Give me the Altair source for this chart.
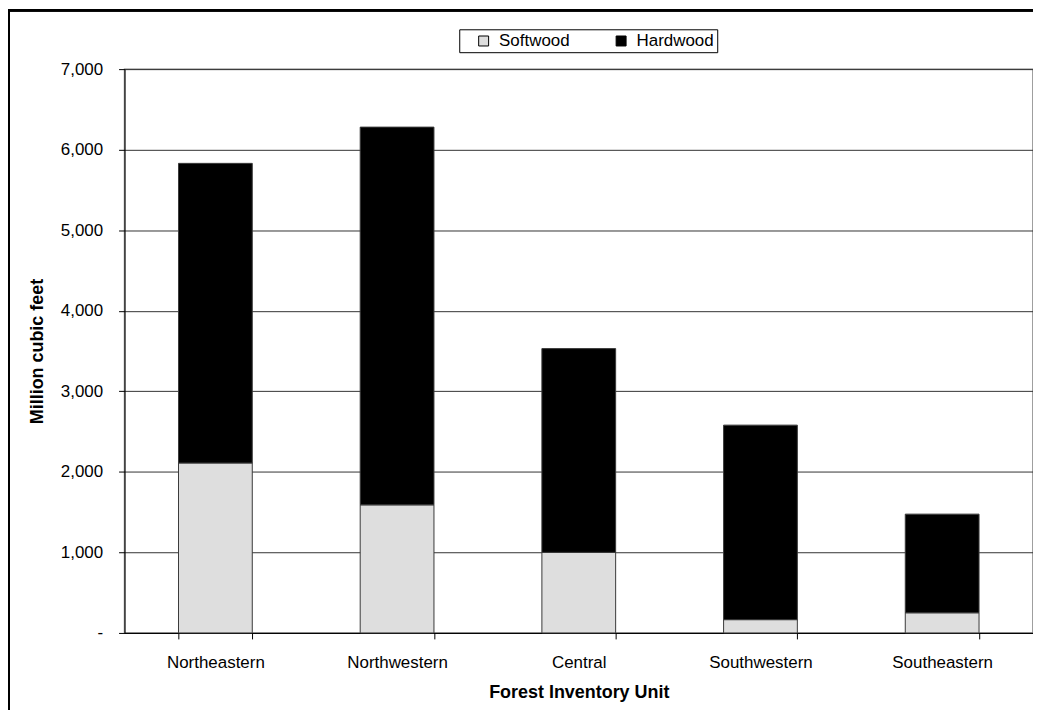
import altair as alt
import pandas as pd

units = ["Northeastern", "Northwestern", "Central", "Southwestern", "Southeastern"]
softwood = [2110, 1590, 1000, 165, 250]
hardwood = [3720, 4690, 2530, 2415, 1225]
series = ["Softwood", "Hardwood"]
y_ticks = [0, 1000, 2000, 3000, 4000, 5000, 6000, 7000]

rows = []
for u, s, h in zip(units, softwood, hardwood):
    rows.append({"unit": u, "type": "Softwood", "value": s, "ord": 0})
    rows.append({"unit": u, "type": "Hardwood", "value": h, "ord": 1})
df = pd.DataFrame(rows)

FONT = "Liberation Sans"

bars = alt.Chart(df).mark_bar(stroke="#3a3a3a", strokeWidth=1).encode(
    x=alt.X("unit:N", sort=units,
            scale=alt.Scale(paddingInner=0.594, paddingOuter=0.297),
            axis=alt.Axis(title="Forest Inventory Unit", labelAngle=0, tickBand="extent",
                          tickSize=6, labelPadding=16, titlePadding=13,
                          labelFontSize=17, titleFontSize=18, titleFontWeight="bold",
                          domainColor="black", tickColor="black", labelColor="black",
                          titleColor="black", grid=False)),
    y=alt.Y("value:Q", stack="zero",
            scale=alt.Scale(domain=[0, 7000], nice=False),
            axis=alt.Axis(title="Million cubic feet", values=y_ticks,
                          labelExpr="datum.value == 0 ? '-' : format(datum.value, ',')",
                          tickSize=6, labelPadding=16, titlePadding=14,
                          labelFontSize=17, titleFontSize=18, titleFontWeight="bold",
                          domainColor="black", tickColor="black", labelColor="black",
                          titleColor="black", grid=True, gridColor="#333333",
                          gridWidth=1)),
    color=alt.Color("type:N", sort=series,
                    scale=alt.Scale(domain=series, range=["#dedede", "#000000"]),
                    legend=alt.Legend(orient="none", legendX=336, legendY=-40,
                                      direction="horizontal", title=None,
                                      strokeColor="black", fillColor="white",
                                      padding=3, symbolType="square", symbolSize=100,
                                      symbolStrokeColor="black", symbolStrokeWidth=1,
                                      labelFontSize=17, labelColor="black",
                                      labelOffset=7,
                                      labelExpr="datum.label == 'Hardwood' ? 'Hardwood   ' : datum.label",
                                      columnPadding=30, symbolOffset=13)),
    order=alt.Order("ord:Q"),
)

frame = alt.Chart(df).mark_rect(fillOpacity=0, stroke="black", strokeWidth=2).encode(
    x=alt.value(-116.5), x2=alt.value(3000), y=alt.value(-59), y2=alt.value(3000)
)

chart = alt.layer(bars, frame).properties(
    width=912, height=566,
    autosize=alt.AutoSizeParams(type="none"),
    padding={"left": 117, "top": 60, "right": 0, "bottom": 76},
).configure(font=FONT).configure_view(stroke="#808080", strokeWidth=1.5)

chart.save("out.html", embed_options={"renderer": "svg", "actions": False})
